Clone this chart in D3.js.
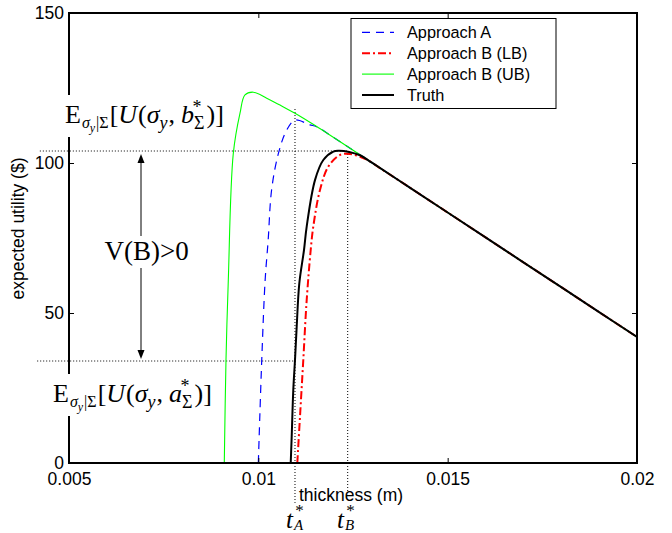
<!DOCTYPE html>
<html>
<head>
<meta charset="utf-8">
<script src="https://cdn.jsdelivr.net/npm/d3@7/dist/d3.min.js"></script>
<style>
  body{margin:0;background:#fff;}
  svg{display:block;font-family:"Liberation Sans",Arial,sans-serif;}
</style>
</head>
<body>
<div id="chart"></div>
<script>
// expected utility vs thickness

const xTicks = [0.005, 0.01, 0.015, 0.02];
const yTicks = [0, 50, 100, 150];
const seriesNames = ["Approach A", "Approach B (LB)", "Approach B (UB)", "Truth"];

// [thickness (m), expected utility ($)]
const approachA = [[0.01000,0],[0.01009,34.3],[0.01018,61],[0.01026,74.3],[0.01035,91],
  [0.01053,103.2],[0.01075,111],[0.01097,114.3],[0.01136,112.7],[0.01154,112.1],
  [0.012,108.4],[0.013,100.1],[0.014,91.8],[0.015,83.5],[0.016,75.2],[0.017,66.9],
  [0.018,58.6],[0.019,50.3],[0.02,42]];
const approachLB = [[0.011029,0],[0.0111,15.4],[0.011187,34.3],[0.011277,54.3],[0.011383,71],
  [0.011451,78.8],[0.011628,91],[0.011848,98.8],[0.012157,102.7],[0.012421,103],
  [0.012685,102.1],[0.0129,100.9],[0.0132,98.4],[0.014,91.8],[0.015,83.5],[0.016,75.2],
  [0.017,66.9],[0.018,58.6],[0.019,50.3],[0.02,42]];
const approachUB = [[0.009101,0],[0.009146,34.3],[0.009207,61],[0.009339,103.2],[0.009516,116.6],
  [0.009648,122.7],[0.009867,123.6],[0.010221,121.6],[0.010572,119.3],[0.010968,116.6],
  [0.0115,112.5],[0.012,108.4],[0.013,100.1],[0.014,91.8],[0.015,83.5],[0.016,75.2],
  [0.017,66.9],[0.018,58.6],[0.019,50.3],[0.02,42]];
const truth = [[0.010855,0],[0.010881,8.8],[0.010923,24.3],[0.010968,34.3],[0.011013,45.4],
  [0.011082,59.9],[0.011206,71],[0.011277,78.8],[0.011496,94.3],[0.011716,101],
  [0.01198,103.8],[0.012112,104.1],[0.0124,103.7],[0.0127,102.5],[0.013,100.1],[0.014,91.8],
  [0.015,83.5],[0.016,75.2],[0.017,66.9],[0.018,58.6],[0.019,50.3],[0.02,42]];

// annotation values
const tA = 0.010968, tB = 0.01236;
const uBest = 104, uA = 34;

const width = 672, height = 533;
const margin = {top:13, right:35, bottom:70, left:69};

const svg = d3.select("#chart").append("svg")
  .attr("width", width).attr("height", height);

const x = d3.scaleLinear().domain([0.005, 0.02]).range([margin.left, width - margin.right]);
const y = d3.scaleLinear().domain([0, 150]).range([height - margin.bottom, margin.top]);

const x0 = x.range()[0], x1 = x.range()[1], y0 = y.range()[0], y1 = y.range()[1];

// dotted guide lines
const dotted = (xa, ya, xb, yb) => svg.append("line")
  .attr("x1", x(xa)).attr("y1", y(ya)).attr("x2", x(xb)).attr("y2", y(yb))
  .attr("stroke", "#000").attr("stroke-width", 1).attr("stroke-dasharray", "1,2");
dotted(0.00423, uBest, tB, uBest);
dotted(0.00416, uA, tA, uA);
dotted(tA, 118, tA, -13.3);
dotted(tB, uBest, tB, -9.7);

// curves
svg.append("clipPath").attr("id", "clip").append("rect")
  .attr("x", x0).attr("y", y1).attr("width", x1 - x0).attr("height", y0 - y1);

const line = d3.line().x(d => x(d[0])).y(d => y(d[1])).curve(d3.curveCatmullRom.alpha(0.5));
const styles = [
  {data: approachA,  color: "#0000ff", w: 1.2, dash: "8,6"},
  {data: approachLB, color: "#ff0000", w: 2,   dash: "8,3,2,3"},
  {data: approachUB, color: "#00ff00", w: 1.1, dash: null},
  {data: truth,      color: "#000000", w: 2,   dash: null}
];
const gc = svg.append("g").attr("clip-path", "url(#clip)");
styles.forEach(s => {
  gc.append("path").attr("d", line(s.data))
    .attr("fill", "none").attr("stroke", s.color).attr("stroke-width", s.w)
    .attr("stroke-dasharray", s.dash);
});

// axes box + ticks
svg.append("g").attr("transform", `translate(0,${y0})`)
  .call(d3.axisBottom(x).tickValues(xTicks).tickSize(-5).tickPadding(10).tickFormat(d3.format("")))
  .call(g => g.select(".domain").remove())
  .call(g => g.selectAll("text").attr("font-size", 17.5).attr("fill", "#000")
    .attr("font-family", "Liberation Sans, Arial, sans-serif"));
svg.append("g").attr("transform", `translate(0,${y1})`)
  .call(d3.axisTop(x).tickValues(xTicks).tickSize(-5).tickFormat(""))
  .call(g => g.select(".domain").remove());
svg.append("g").attr("transform", `translate(${x0},0)`)
  .call(d3.axisLeft(y).tickValues(yTicks).tickSize(-5).tickPadding(5))
  .call(g => g.select(".domain").remove())
  .call(g => g.selectAll("text").attr("font-size", 17.5).attr("fill", "#000")
    .attr("font-family", "Liberation Sans, Arial, sans-serif"));
svg.append("g").attr("transform", `translate(${x1},0)`)
  .call(d3.axisRight(y).tickValues(yTicks).tickSize(-5).tickFormat(""))
  .call(g => g.select(".domain").remove());
svg.append("rect").attr("x", x0).attr("y", y1).attr("width", x1 - x0).attr("height", y0 - y1)
  .attr("fill", "none").attr("stroke", "#000").attr("stroke-width", 2);

// axis titles
svg.append("text").attr("x", 299).attr("y", 501)
  .attr("font-size", 17.5).text("thickness (m)");
svg.append("text").attr("transform", "translate(24,228.5) rotate(-90)")
  .attr("text-anchor", "middle").attr("font-size", 17.5).text("expected utility ($)");

// math-like text helper: parts = [text, size, baselineOffset, italic, dx]
function mathText(px, py, parts, bg){
  const g = svg.append("g");
  const rect = g.append("rect").attr("fill", "#fff");
  const t = g.append("text").attr("x", px).attr("y", py)
    .attr("font-family", "Liberation Serif, Times New Roman, serif").attr("fill", "#000");
  let prev = 0;
  parts.forEach(([s, size, off, it, dx]) => {
    t.append("tspan").attr("font-size", size).attr("dy", off - prev)
      .attr("dx", dx || 0).attr("font-style", it ? "italic" : "normal").text(s);
    prev = off;
  });
  if (bg){
    const b = t.node().getBBox();
    rect.attr("x", b.x - bg[0]).attr("y", b.y - bg[1])
      .attr("width", b.width + 2*bg[0]).attr("height", b.height + 2*bg[1]);
  } else rect.remove();
  return g;
}

const expParts = letter => [
  ["E", 26, 0, false],
  ["σ", 16, 5, true, 1],
  ["y", 12, 9, true],
  ["|Σ", 16, 5, false, 1],
  ["[", 26, 0, false, 1],
  ["U", 26, 0, true],
  ["(", 26, 0, false, 1],
  ["σ", 26, 0, true],
  ["y", 18, 6, true],
  [",", 26, 0, false, 1],
  [letter, 26, 0, true, 6],
  ["Σ", 18, 6, false],
  ["*", 18, -10, false, -12],
  [")]", 26, 0, false, 5]
];
mathText(65, 123, expParts("b"), [3, 2]);
mathText(53, 402, expParts("a"), [3, 2]);

// V(B)>0 double arrow
const ax = 141;
svg.append("line").attr("x1", ax).attr("x2", ax).attr("y1", y(uBest) + 6).attr("y2", y(uA) - 6)
  .attr("stroke", "#000").attr("stroke-width", 1);
svg.append("path").attr("d", `M${ax},${y(uBest)+3} l-3.5,9 h7 Z`).attr("fill", "#000");
svg.append("path").attr("d", `M${ax},${y(uA)-2} l-3.5,-9 h7 Z`).attr("fill", "#000");
svg.append("rect").attr("x", 120).attr("y", 236).attr("width", 50).attr("height", 32).attr("fill", "#fff");
svg.append("text").attr("x", 146.7).attr("y", 259.5).attr("text-anchor", "middle")
  .attr("font-family", "Liberation Serif, Times New Roman, serif").attr("font-size", 27)
  .text("V(B)>0");

// t* labels
mathText(286, 528, [["t", 25, 0, true], ["A", 15, 2, true, 1], ["*", 17, -12, false, -8]]);
mathText(337, 528, [["t", 25, 0, true], ["B", 15, 2, true, 1], ["*", 17, -12, false, -8]]);

// legend
const leg = svg.append("g");
leg.append("rect").attr("x", 351).attr("y", 18.5).attr("width", 205).attr("height", 90)
  .attr("fill", "#fff").attr("stroke", "#000").attr("stroke-width", 1);
const ly = d3.scalePoint().domain(seriesNames).range([32.3, 95]);
seriesNames.forEach((n, i) => {
  const s = styles[i];
  leg.append("line").attr("x1", 362).attr("x2", 394).attr("y1", ly(n)).attr("y2", ly(n))
    .attr("stroke", s.color).attr("stroke-width", s.w).attr("stroke-dasharray", s.dash);
  leg.append("text").attr("x", 407).attr("y", ly(n)).attr("dy", "0.35em")
    .attr("font-size", 16.3).text(n);
});
</script>
</body>
</html>
